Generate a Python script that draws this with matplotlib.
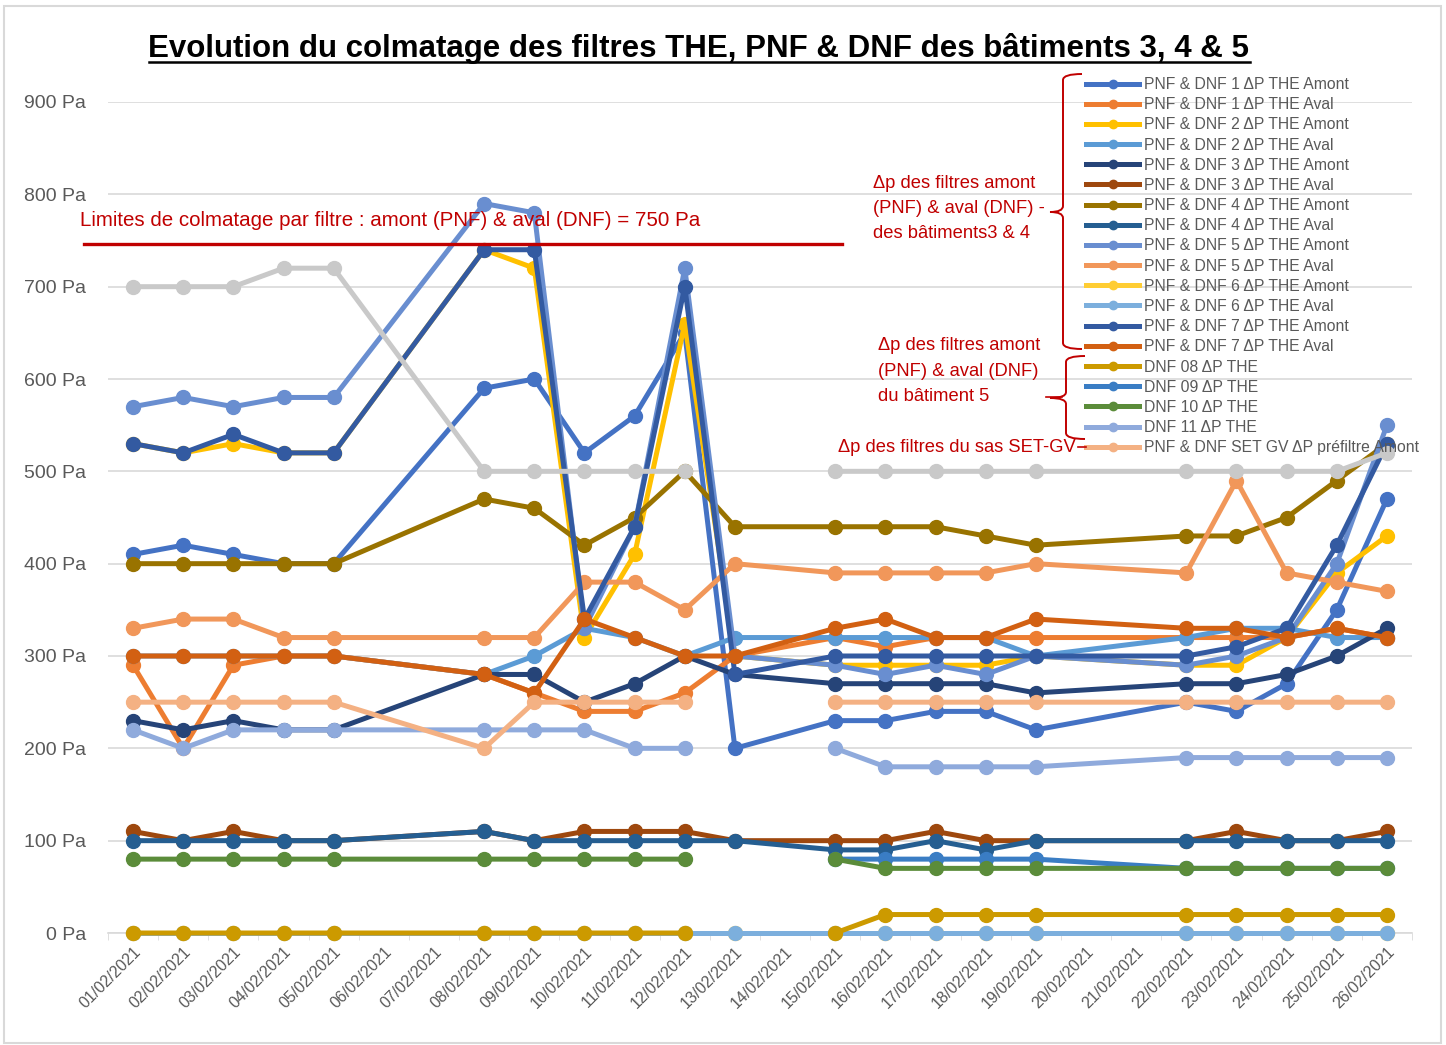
import numpy as np
import matplotlib
matplotlib.use("Agg")
import matplotlib.pyplot as plt
from matplotlib.path import Path
from matplotlib.patches import PathPatch, Rectangle
from matplotlib.lines import Line2D

plt.rcParams['font.family'] = ['Liberation Sans', 'DejaVu Sans']

N = None
# jours de février 2021 avec mesures
jours = [1, 2, 3, 4, 5, 8, 9, 10, 11, 12, 13, 15, 16, 17, 18, 19, 22, 23, 24, 25, 26]
dates = ["%02d/02/2021" % d for d in range(1, 27)]

noms = [
    "PNF & DNF 1 ΔP THE Amont", "PNF & DNF 1 ΔP THE Aval",
    "PNF & DNF 2 ΔP THE Amont", "PNF & DNF 2 ΔP THE Aval",
    "PNF & DNF 3 ΔP THE Amont", "PNF & DNF 3 ΔP THE Aval",
    "PNF & DNF 4 ΔP THE Amont", "PNF & DNF 4 ΔP THE Aval",
    "PNF & DNF 5 ΔP THE Amont", "PNF & DNF 5 ΔP THE Aval",
    "PNF & DNF 6 ΔP THE Amont", "PNF & DNF 6 ΔP THE Aval",
    "PNF & DNF 7 ΔP THE Amont", "PNF & DNF 7 ΔP THE Aval",
    "DNF 08 ΔP THE", "DNF 09 ΔP THE", "DNF 10 ΔP THE", "DNF 11 ΔP THE",
    "PNF & DNF SET GV ΔP préfiltre Amont",
]
couleurs = [
    "#4472C4", "#ED7D31", "#FFC000", "#5B9BD5", "#264478", "#9E480E",
    "#997300", "#255E91", "#698ED0", "#F1975A", "#FFCD33", "#7CAFDD",
    "#335AA1", "#D26012", "#CC9A00", "#3A7DC4", "#5B8C3A", "#8FAADC",
    "#F4B183",
]

#            1    2    3    4    5    8    9    10   11   12   13   15   16   17   18   19   22   23   24   25   26
dnf1_am = [410, 420, 410, 400, 400, 590, 600, 520, 560, 650, 200, 230, 230, 240, 240, 220, 250, 240, 270, 350, 470]
dnf1_av = [290, 200, 290, 300, 300, 280, 260, 240, 240, 260, 300, 320, 310, 320, 320, 320, 320, 320, 320, 330, 320]
dnf2_am = [530, 520, 530, 520, 520, 740, 720, 320, 410, 660, 300, 290, 290, 290, 290, 300, 290, 290, 320, 390, 430]
dnf2_av = [300, 300, 300, 300, 300, 280, 300, 330, 320, 300, 320, 320, 320, 320, 320, 300, 320, 330, 330, 320, 320]
dnf3_am = [230, 220, 230, 220, 220, 280, 280, 250, 270, 300, 280, 270, 270, 270, 270, 260, 270, 270, 280, 300, 330]
dnf3_av = [110, 100, 110, 100, 100, 110, 100, 110, 110, 110, 100, 100, 100, 110, 100, 100, 100, 110, 100, 100, 110]
dnf4_am = [400, 400, 400, 400, 400, 470, 460, 420, 450, 500, 440, 440, 440, 440, 430, 420, 430, 430, 450, 490, 530]
dnf4_av = [100, 100, 100, 100, 100, 110, 100, 100, 100, 100, 100, 90, 90, 100, 90, 100, 100, 100, 100, 100, 100]
dnf5_am = [570, 580, 570, 580, 580, 790, 780, 330, 440, 720, 300, 290, 280, 290, 280, 300, 290, 300, 320, 400, 550]
dnf5_av = [330, 340, 340, 320, 320, 320, 320, 380, 380, 350, 400, 390, 390, 390, 390, 400, 390, 490, 390, 380, 370]
dnf6_am = [0, 0, 0, 0, 0, 0, 0, 0, 0, 0, 0, 0, 0, 0, 0, 0, 0, 0, 0, 0, 0]
dnf6_av = [0, 0, 0, 0, 0, 0, 0, 0, 0, 0, 0, 0, 0, 0, 0, 0, 0, 0, 0, 0, 0]
dnf7_am = [530, 520, 540, 520, 520, 740, 740, 340, 440, 700, 280, 300, 300, 300, 300, 300, 300, 310, 330, 420, 530]
dnf7_av = [300, 300, 300, 300, 300, 280, 260, 340, 320, 300, 300, 330, 340, 320, 320, 340, 330, 330, 320, 330, 320]
dnf08 = [0, 0, 0, 0, 0, 0, 0, 0, 0, 0, N, 0, 20, 20, 20, 20, 20, 20, 20, 20, 20]
dnf09 = [N, N, N, N, N, N, N, N, N, N, N, 80, 80, 80, 80, 80, 70, 70, 70, 70, 70]
dnf10 = [80, 80, 80, 80, 80, 80, 80, 80, 80, 80, N, 80, 70, 70, 70, 70, 70, 70, 70, 70, 70]
dnf11 = [220, 200, 220, 220, 220, 220, 220, 220, 200, 200, N, 200, 180, 180, 180, 180, 190, 190, 190, 190, 190]
set_gv = [250, 250, 250, 250, 250, 200, 250, 250, 250, 250, N, 250, 250, 250, 250, 250, 250, 250, 250, 250, 250]
set_gv_aval = [700, 700, 700, 720, 720, 500, 500, 500, 500, 500, N, 500, 500, 500, 500, 500, 500, 500, 500, 500, 520]

series = [dnf1_am, dnf1_av, dnf2_am, dnf2_av, dnf3_am, dnf3_av, dnf4_am, dnf4_av,
          dnf5_am, dnf5_av, dnf6_am, dnf6_av, dnf7_am, dnf7_av,
          dnf08, dnf09, dnf10, dnf11, set_gv]

W, H = 1446, 1045
fig = plt.figure(figsize=(W / 100, H / 100), dpi=100)
ax = fig.add_axes([108 / W, 1 - 933 / H, (1412 - 108) / W, (933 - 102) / H])

def fx(px):
    return px / W

def fy(py):
    return 1 - py / H

x = np.array(jours)
handles = []
for vals, nom, c in zip(series, noms, couleurs):
    y = np.array([np.nan if v is None else v for v in vals], dtype=float)
    h, = ax.plot(x, y, '-o', color=c, lw=3.6, ms=10, label=nom, clip_on=False, zorder=3)
    handles.append(h)
y = np.array([np.nan if v is None else v for v in set_gv_aval], dtype=float)
ax.plot(x, y, '-o', color="#C9C9C9", lw=3.6, ms=10, clip_on=False, zorder=3)

ax.set_xlim(0.5, 26.5)
ax.set_ylim(0, 900)
ax.set_yticks(range(0, 901, 100))
ax.set_yticklabels(["%d Pa" % v for v in range(0, 901, 100)], fontsize=14, color="#595959")
ax.set_xticks(range(1, 27))
ax.set_xticklabels(dates, rotation=45, ha='right', rotation_mode='anchor', fontsize=11.5, color="#595959")
ax.set_xticks(np.arange(0.5, 26.6, 1), minor=True)
ax.tick_params(axis='x', which='major', length=0, pad=8)
ax.tick_params(axis='x', which='minor', length=5, color="#D9D9D9")
ax.tick_params(axis='y', length=0, pad=16)
ax.grid(axis='y', color="#D9D9D9", lw=1.2)
ax.set_axisbelow(True)
for s in ['top', 'right', 'left']:
    ax.spines[s].set_visible(False)
ax.spines['bottom'].set_color("#D9D9D9")
ax.spines['bottom'].set_linewidth(1.2)

leg = ax.legend(handles, noms, loc='upper left', bbox_to_anchor=(fx(1086), fy(77)),
                bbox_transform=fig.transFigure, frameon=False, fontsize=11.3,
                handlelength=3.4, handletextpad=0.3, labelspacing=0.33,
                borderpad=0, borderaxespad=0, markerscale=0.6)
for t in leg.get_texts():
    t.set_color("#595959")

rouge = "#C00000"
# limite de colmatage
fig.add_artist(Line2D([fx(84), fx(842)], [fy(244), fy(244)], color=rouge, lw=2.4))
fig.text(fx(80), fy(221), "Limites de colmatage par filtre : amont (PNF) & aval (DNF) = 750 Pa",
         color=rouge, fontsize=14.8, va='center')

lignes1 = ["Δp des filtres amont", "(PNF) & aval (DNF) -", "des bâtiments3 & 4"]
for i, l in enumerate(lignes1):
    fig.text(fx(873), fy(184 + 24.5 * i), l, color=rouge, fontsize=13.2, va='center')
lignes2 = ["Δp des filtres amont", "(PNF) & aval (DNF)", "du bâtiment 5"]
for i, l in enumerate(lignes2):
    fig.text(fx(878), fy(346 + 25 * i), l, color=rouge, fontsize=13.2, va='center')
fig.add_artist(Line2D([fx(1046), fx(1062)], [fy(397), fy(397)], color=rouge, lw=1.2))
fig.text(fx(838), fy(447), "Δp des filtres du sas SET-GV", color=rouge, fontsize=13.2, va='center')
fig.add_artist(Line2D([fx(1078), fx(1086)], [fy(447), fy(447)], color=rouge, lw=1.2))

def accolade(y0, ym, y1, xs, xt, xh):
    # accolade ouverte vers la droite, pointe à gauche
    r = 6
    pts = [(xh, y0), (xs, y0), (xs, y0 + r), (xs, ym - r), (xs, ym), (xt, ym),
           (xs, ym), (xs, ym + r), (xs, y1 - r), (xs, y1), (xh, y1)]
    codes = [Path.MOVETO, Path.CURVE3, Path.CURVE3, Path.LINETO, Path.CURVE3, Path.CURVE3,
             Path.CURVE3, Path.CURVE3, Path.LINETO, Path.CURVE3, Path.CURVE3]
    pts = [(fx(a), fy(b)) for a, b in pts]
    fig.add_artist(PathPatch(Path(pts, codes), fill=False, ec=rouge, lw=1.4,
                             transform=fig.transFigure))

accolade(74, 212, 349, 1063, 1050, 1082)
accolade(356, 398, 439, 1066, 1050, 1085)

titre = fig.text(fx(699), fy(49), "Evolution du colmatage des filtres THE, PNF & DNF des bâtiments 3, 4 & 5",
                 ha='center', va='center', fontsize=22.5, fontweight='bold',
                 family=['Liberation Sans Narrow', 'Liberation Sans', 'DejaVu Sans'])
fig.canvas.draw()
bb = titre.get_window_extent().transformed(fig.transFigure.inverted())
fig.add_artist(Line2D([bb.x0, bb.x1], [bb.y0 + 0.002, bb.y0 + 0.002], color='black', lw=1.8))

fig.add_artist(Rectangle((fx(4), fy(1043)), fx(1437), 1 - fy(1043) - 6 / H,
                         fill=False, ec="#D9D9D9", lw=1.5, transform=fig.transFigure))

plt.savefig("out.png", dpi=100)
